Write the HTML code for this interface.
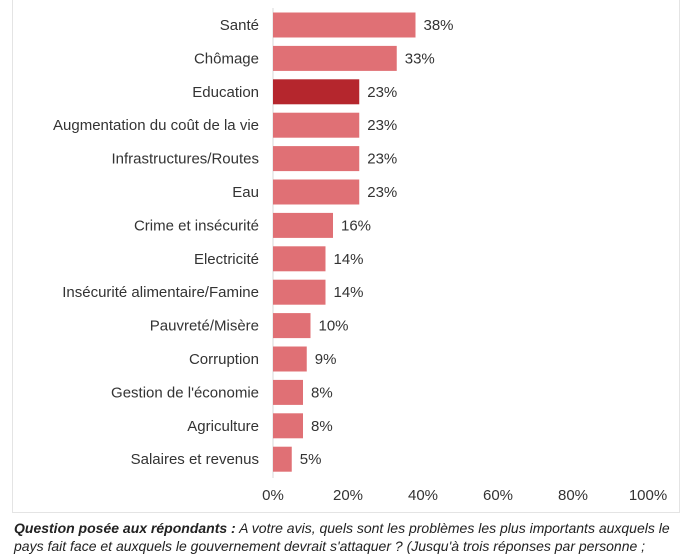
<!DOCTYPE html>
<html><head><meta charset="utf-8"><style>
body{margin:0;width:690px;height:550px;background:#fff;overflow:hidden;font-family:"Liberation Sans",sans-serif;}
#frame{position:absolute;left:12px;top:-2px;width:668px;height:515px;border:1px solid #e4e4e4;box-sizing:border-box;}
#cap{position:absolute;left:14px;top:519px;width:670px;font-size:14px;line-height:18px;color:#222;font-style:italic;white-space:nowrap;}
</style></head><body>
<div id="frame"></div>
<svg id="chart" width="690" height="515" style="position:absolute;left:0;top:0"></svg>
<div id="cap"><b>Question posée aux répondants :</b> A votre avis, quels sont les problèmes les plus importants auxquels le<br>pays fait face et auxquels le gouvernement devrait s'attaquer ? (Jusqu'à trois réponses par personne ;</div>
<script>
const categories=["Santé","Chômage","Education","Augmentation du coût de la vie","Infrastructures/Routes","Eau","Crime et insécurité","Electricité","Insécurité alimentaire/Famine","Pauvreté/Misère","Corruption","Gestion de l'économie","Agriculture","Salaires et revenus"];
const values=[38,33,23,23,23,23,16,14,14,10,9,8,8,5];
const highlight=["Education"];
const ticks=[0,20,40,60,80,100];
const svg=document.getElementById('chart');
const NS='http://www.w3.org/2000/svg';
const x0=273,x1=648;
const xs=v=>x0+(x1-x0)*v/100;
const ys=i=>25+i*33.4;
function mk(t,a){const e=document.createElementNS(NS,t);for(const k in a)e.setAttribute(k,a[k]);svg.appendChild(e);return e;}
const ax=mk('line',{x1:x0,x2:x0,y1:8,y2:478,stroke:'#d9d9d9','stroke-width':1});


categories.forEach((c,i)=>{
  const y=ys(i);
  const r=mk('rect',{x:x0,y:y-12.5,width:xs(values[i])-x0,height:25,fill:highlight.includes(c)?'#b5262d':'#e07075'});
  
  
  const l=mk('text',{x:259,y:y+5,'text-anchor':'end','font-size':15,fill:'#333'});
  l.textContent=c;
  
  
  const v=mk('text',{x:xs(values[i])+8,y:y+5,'font-size':15,fill:'#333'});
  v.textContent=values[i]+'%';
  
  
});
ticks.forEach(t=>{
  const e=mk('text',{x:xs(t),y:500,'text-anchor':'middle','font-size':15,fill:'#333'});
  e.textContent=t+'%';
  
  
});
</script>
</body></html>
